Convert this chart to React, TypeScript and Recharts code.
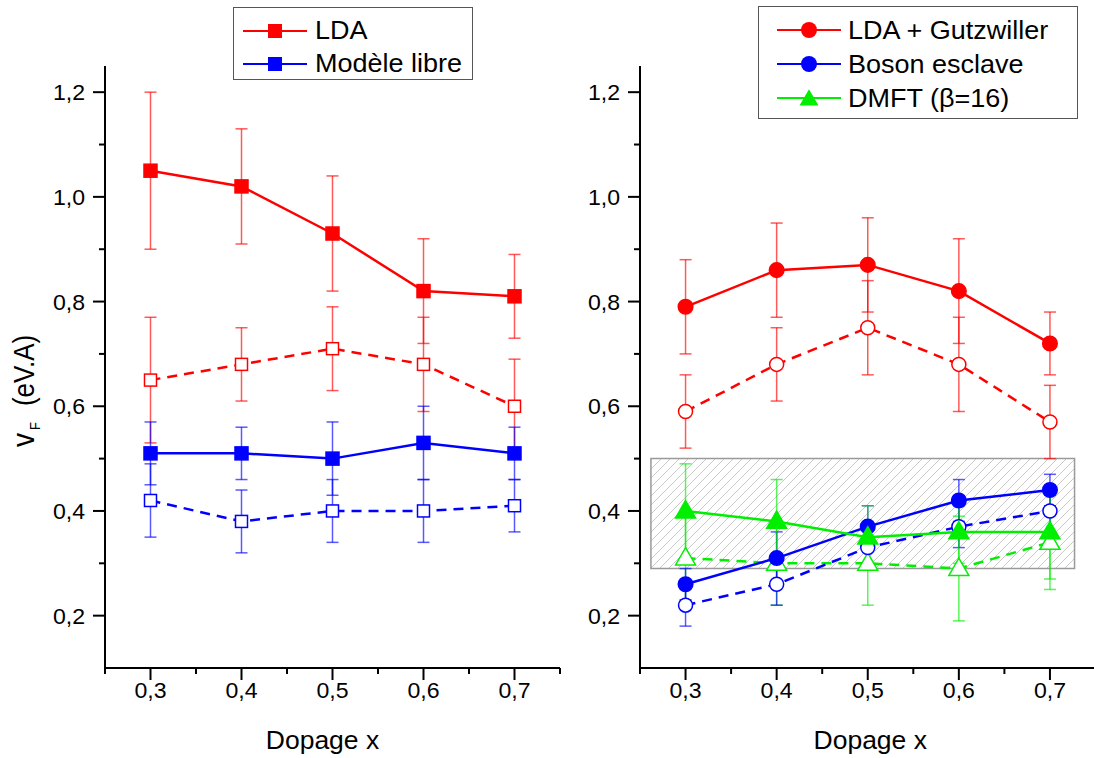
import React from 'react';
import { LineChart, Line, XAxis, YAxis, ErrorBar, ReferenceArea } from 'recharts';

// ---------- data ----------
const dopage = [0.3, 0.4, 0.5, 0.6, 0.7];
const xTicks = [0.25, 0.3, 0.35, 0.4, 0.45, 0.5, 0.55, 0.6, 0.65, 0.7, 0.75];
const yTicks = [0.2, 0.3, 0.4, 0.5, 0.6, 0.7, 0.8, 0.9, 1.0, 1.1, 1.2];
const xDomain = [0.25, 0.75];
const yDomain = [0.1, 1.25];

// left panel
const ldaFilled = [1.05, 1.02, 0.93, 0.82, 0.81];
const ldaFilledErr = [0.15, 0.11, 0.11, 0.1, 0.08];
const ldaOpen = [0.65, 0.68, 0.71, 0.68, 0.6];
const ldaOpenErr = [0.12, 0.07, 0.08, 0.09, 0.09];
const libreFilled = [0.51, 0.51, 0.5, 0.53, 0.51];
const libreFilledErr = [0.06, 0.05, 0.07, 0.07, 0.05];
const libreOpen = [0.42, 0.38, 0.4, 0.4, 0.41];
const libreOpenErr = [0.07, 0.06, 0.06, 0.06, 0.05];

// right panel
const gutzFilled = [0.79, 0.86, 0.87, 0.82, 0.72];
const gutzFilledErr = [0.09, 0.09, 0.09, 0.1, 0.06];
const gutzOpen = [0.59, 0.68, 0.75, 0.68, 0.57];
const gutzOpenErr = [0.07, 0.07, 0.09, 0.09, 0.07];
const bosonFilled = [0.26, 0.31, 0.37, 0.42, 0.44];
const bosonFilledErr = [0.03, 0.05, 0.04, 0.04, 0.03];
const bosonOpen = [0.22, 0.26, 0.33, 0.37, 0.4];
const bosonOpenErr = [0.04, 0.04, 0.04, 0.04, 0.04];
const dmftFilled = [0.4, 0.38, 0.35, 0.36, 0.36];
const dmftFilledErr = [0.09, 0.08, 0.06, 0.06, 0.09];
const dmftOpen = [0.31, 0.3, 0.3, 0.29, 0.34];
const dmftOpenErr = [0.08, 0.08, 0.08, 0.1, 0.09];

const bandX = [0.262, 0.727];
const bandY = [0.29, 0.5];

const leftLabels = ['LDA', 'Modèle libre'];
const rightLabels = ['LDA + Gutzwiller', 'Boson esclave', 'DMFT (β=16)'];
const xTitle = 'Dopage x';

const leftData = dopage.map((x, i) => ({
  x,
  ldaF: ldaFilled[i], ldaFE: ldaFilledErr[i],
  ldaO: ldaOpen[i], ldaOE: ldaOpenErr[i],
  libF: libreFilled[i], libFE: libreFilledErr[i],
  libO: libreOpen[i], libOE: libreOpenErr[i],
}));

const rightData = dopage.map((x, i) => ({
  x,
  gzF: gutzFilled[i], gzFE: gutzFilledErr[i],
  gzO: gutzOpen[i], gzOE: gutzOpenErr[i],
  bsF: bosonFilled[i], bsFE: bosonFilledErr[i],
  bsO: bosonOpen[i], bsOE: bosonOpenErr[i],
  dmF: dmftFilled[i], dmFE: dmftFilledErr[i],
  dmO: dmftOpen[i], dmOE: dmftOpenErr[i],
}));

// ---------- styles ----------
const FONT = "'Liberation Sans', Arial, Helvetica, sans-serif";
const RED = '#ff0000';
const BLUE = '#0000ff';
const GREEN = '#00ee00';

const fmt = (v: number) => v.toFixed(1).replace('.', ',');

const XTick = (props: any) => {
  const { x, y, payload } = props;
  const v = payload.value as number;
  const major = Math.round(v * 100) % 10 === 0;
  return (
    <g>
      <line x1={x} x2={x} y1={y} y2={y + (major ? 12 : 6)} stroke="#000" strokeWidth={2} />
      {major && (
        <text transform={`translate(${x},${y + 29.5}) scale(1.05,1)`} textAnchor="middle" fontSize={22} fontFamily={FONT} fill="#000">
          {fmt(v)}
        </text>
      )}
    </g>
  );
};

const YTick = (props: any) => {
  const { x, y, payload } = props;
  const v = payload.value as number;
  const major = Math.round(v * 10) % 2 === 0;
  return (
    <g>
      <line x1={x - (major ? 12 : 6)} x2={x} y1={y} y2={y} stroke="#000" strokeWidth={2} />
      {major && (
        <text transform={`translate(${x - 20},${y + 8}) scale(1.05,1)`} textAnchor="end" fontSize={22} fontFamily={FONT} fill="#000">
          {fmt(v)}
        </text>
      )}
    </g>
  );
};

const XTitle = (dx: number) => (props: any) => {
  const vb = props.viewBox || { x: 0, y: 0, width: 0, height: 0 };
  const cx = vb.x + vb.width / 2 + dx;
  return (
    <text x={cx} y={vb.y + 81} textAnchor="middle" fontSize={26.5} fontFamily={FONT} fill="#000">
      {xTitle}
    </text>
  );
};

const YTitle = (props: any) => {
  const vb = props.viewBox || { x: 0, y: 0, width: 0, height: 0 };
  const bx = vb.x + 34;
  const by = vb.y + vb.height / 2 + 80;
  return (
    <g transform={`translate(${bx},${by}) scale(1.15,1) rotate(-90)`}>
      <text x={0} y={0} textAnchor="start" fontSize={26} fontFamily={FONT} fill="#000">
        <tspan fontSize={28}>v</tspan>
        <tspan fontSize={13} dx={3} dy={5}>F</tspan>
        <tspan dx={16} dy={-5}>(eV.A)</tspan>
      </text>
    </g>
  );
};

// ---------- markers ----------
const squareDot = (color: string, filled: boolean) => (p: any) => {
  const s = filled ? 13 : 12;
  return (
    <rect key={`sq-${p.index}`} x={p.cx - s / 2} y={p.cy - s / 2} width={s} height={s}
      fill={filled ? color : '#fff'} stroke={color} strokeWidth={1.5} />
  );
};
const circleDot = (color: string, filled: boolean) => (p: any) => (
  <circle key={`ci-${p.index}`} cx={p.cx} cy={p.cy} r={filled ? 7.3 : 7}
    fill={filled ? color : '#fff'} stroke={color} strokeWidth={1.5} />
);
const triPoints = (cx: number, cy: number, w: number) => {
  const h = w * 0.866;
  return `${cx},${cy - h * 0.6} ${cx + w / 2},${cy + h * 0.4} ${cx - w / 2},${cy + h * 0.4}`;
};
const triDot = (color: string, filled: boolean) => (p: any) => (
  <polygon key={`tr-${p.index}`} points={triPoints(p.cx, p.cy, 20)}
    fill={filled ? color : '#fff'} stroke={color} strokeWidth={1.5} />
);

// ---------- legend ----------
type LegendItem = { label: string; color: string; marker: 'square' | 'circle' | 'triangle' };

const LegendBox = ({ left, top, width, height, items, first, step, iconX, textX }: any) => (
  <div style={{ position: 'absolute', left, top, width, height, border: '1.5px solid #555', boxSizing: 'border-box', background: '#fff' }}>
    {items.map((it: LegendItem, i: number) => {
      const cy = first + i * step;
      return (
        <React.Fragment key={it.label}>
          <svg style={{ position: 'absolute', left: iconX, top: cy - 11 }} width={66} height={22}>
            <line x1={0} x2={64} y1={11} y2={11} stroke={it.color} strokeWidth={2} />
            {it.marker === 'square' && <rect x={25} y={4} width={14} height={14} fill={it.color} />}
            {it.marker === 'circle' && <circle cx={32} cy={11} r={8} fill={it.color} />}
            {it.marker === 'triangle' && <polygon points={triPoints(32, 12, 19)} fill={it.color} />}
          </svg>
          <div style={{ position: 'absolute', left: textX, top: cy - 15, height: 30, display: 'flex', alignItems: 'center', whiteSpace: 'nowrap' }}>
            <span style={{ fontFamily: FONT, fontSize: 25, lineHeight: 1, display: 'inline-block', transform: 'scaleX(1.08)', transformOrigin: 'left center', color: '#000' }}>
              {it.label}
            </span>
          </div>
        </React.Fragment>
      );
    })}
  </div>
);

const errStyle = (c: string) => ({ stroke: c, strokeOpacity: 0.65, strokeWidth: 1.5 });

const axisCommon = {
  axisLine: { stroke: '#000', strokeWidth: 2 },
  tickLine: false,
  tickSize: 0,
  tickMargin: 0,
  interval: 0 as const,
  allowDataOverflow: true,
};

export default function App() {
  return (
    <div style={{ position: 'absolute', left: 0, top: 0, width: 1094, height: 758, overflow: 'hidden', background: '#fff' }}>
      <svg width={0} height={0} style={{ position: 'absolute' }}>
        <defs>
          <pattern id="hatch" patternUnits="userSpaceOnUse" width={9} height={9}>
            <path d="M-1,1 L1,-1 M0,9 L9,0 M8,10 L10,8" stroke="#bdbdbd" strokeWidth={0.8} />
          </pattern>
        </defs>
      </svg>

      {/* left panel */}
      <div style={{ position: 'absolute', left: 0, top: 0 }}>
        <LineChart width={580} height={758} data={leftData} margin={{ top: 66, right: 20, bottom: 0, left: 0 }}>
          <XAxis dataKey="x" type="number" domain={xDomain} ticks={xTicks} height={90} tick={<XTick />} label={XTitle(-10)} {...axisCommon} />
          <YAxis type="number" domain={yDomain} ticks={yTicks} width={105} tick={<YTick />} label={YTitle} {...axisCommon} />
          <Line dataKey="ldaO" stroke={RED} strokeWidth={2.5} strokeDasharray="10 7" dot={squareDot(RED, false)} activeDot={false} isAnimationActive={false}>
            <ErrorBar dataKey="ldaOE" direction="y" width={6} {...errStyle(RED)} />
          </Line>
          <Line dataKey="ldaF" stroke={RED} strokeWidth={2.5} dot={squareDot(RED, true)} activeDot={false} isAnimationActive={false}>
            <ErrorBar dataKey="ldaFE" direction="y" width={6} {...errStyle(RED)} />
          </Line>
          <Line dataKey="libO" stroke={BLUE} strokeWidth={2.5} strokeDasharray="10 7" dot={squareDot(BLUE, false)} activeDot={false} isAnimationActive={false}>
            <ErrorBar dataKey="libOE" direction="y" width={6} {...errStyle(BLUE)} />
          </Line>
          <Line dataKey="libF" stroke={BLUE} strokeWidth={2.5} dot={squareDot(BLUE, true)} activeDot={false} isAnimationActive={false}>
            <ErrorBar dataKey="libFE" direction="y" width={6} {...errStyle(BLUE)} />
          </Line>
        </LineChart>
      </div>

      {/* right panel */}
      <div style={{ position: 'absolute', left: 535, top: 0 }}>
        <LineChart width={565} height={758} data={rightData} margin={{ top: 66, right: 4.5, bottom: 0, left: 0 }}>
          <XAxis dataKey="x" type="number" domain={xDomain} ticks={xTicks} height={90} tick={<XTick />} label={XTitle(2.5)} {...axisCommon} />
          <YAxis type="number" domain={yDomain} ticks={yTicks} width={105} tick={<YTick />} {...axisCommon} />
          <ReferenceArea x1={bandX[0]} x2={bandX[1]} y1={bandY[0]} y2={bandY[1]} fill="url(#hatch)" fillOpacity={1} stroke="#9a9a9a" strokeWidth={1.5} ifOverflow="visible" />
          <Line dataKey="gzO" stroke={RED} strokeWidth={2.5} strokeDasharray="10 7" dot={circleDot(RED, false)} activeDot={false} isAnimationActive={false}>
            <ErrorBar dataKey="gzOE" direction="y" width={6} {...errStyle(RED)} />
          </Line>
          <Line dataKey="gzF" stroke={RED} strokeWidth={2.5} dot={circleDot(RED, true)} activeDot={false} isAnimationActive={false}>
            <ErrorBar dataKey="gzFE" direction="y" width={6} {...errStyle(RED)} />
          </Line>
          <Line dataKey="dmO" stroke={GREEN} strokeWidth={2.5} strokeDasharray="10 7" dot={triDot(GREEN, false)} activeDot={false} isAnimationActive={false}>
            <ErrorBar dataKey="dmOE" direction="y" width={6} {...errStyle(GREEN)} />
          </Line>
          <Line dataKey="bsO" stroke={BLUE} strokeWidth={2.5} strokeDasharray="10 7" dot={circleDot(BLUE, false)} activeDot={false} isAnimationActive={false}>
            <ErrorBar dataKey="bsOE" direction="y" width={6} {...errStyle(BLUE)} />
          </Line>
          <Line dataKey="bsF" stroke={BLUE} strokeWidth={2.5} dot={circleDot(BLUE, true)} activeDot={false} isAnimationActive={false}>
            <ErrorBar dataKey="bsFE" direction="y" width={6} {...errStyle(BLUE)} />
          </Line>
          <Line dataKey="dmF" stroke={GREEN} strokeWidth={2.5} dot={triDot(GREEN, true)} activeDot={false} isAnimationActive={false}>
            <ErrorBar dataKey="dmFE" direction="y" width={6} {...errStyle(GREEN)} />
          </Line>
        </LineChart>
      </div>

      <LegendBox left={233} top={7} width={240} height={73} first={22.5} step={33} iconX={9} textX={81}
        items={[
          { label: leftLabels[0], color: RED, marker: 'square' },
          { label: leftLabels[1], color: BLUE, marker: 'square' },
        ]} />
      <LegendBox left={758} top={6} width={320} height={113} first={23} step={34} iconX={18} textX={89}
        items={[
          { label: rightLabels[0], color: RED, marker: 'circle' },
          { label: rightLabels[1], color: BLUE, marker: 'circle' },
          { label: rightLabels[2], color: GREEN, marker: 'triangle' },
        ]} />
    </div>
  );
}
